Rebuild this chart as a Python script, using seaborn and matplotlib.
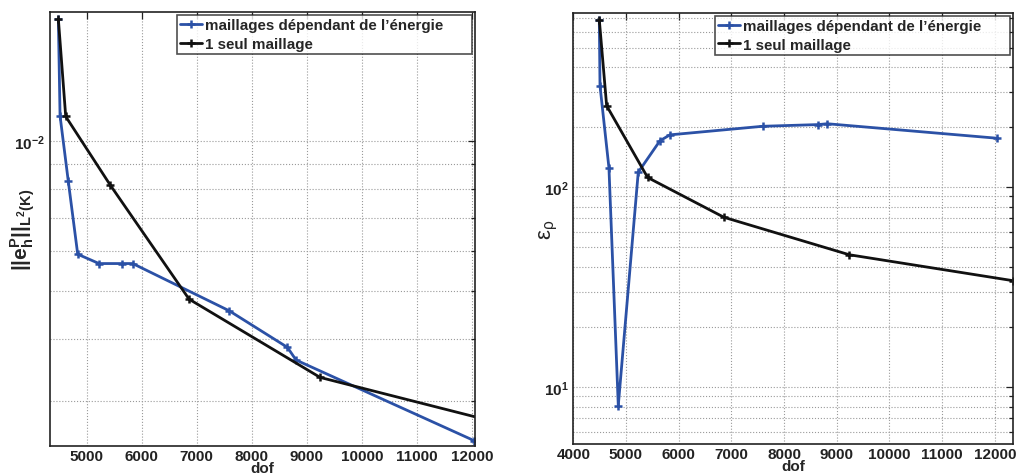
import matplotlib
matplotlib.use("Agg")
import matplotlib.pyplot as plt
import matplotlib.ticker as mticker
import numpy as np
import pandas as pd
import seaborn as sns

# Error norm ||e_h^P||_{L^2(K)} versus number of degrees of freedom
err_dof_multi = [4484, 4515, 4665, 4836, 5224, 5636, 5836, 7587, 8647, 8805, 12045]
err_val_multi = [0.01756, 0.01122, 0.00829, 0.00592, 0.00567, 0.00567, 0.00567,
                 0.00456, 0.00385, 0.00363, 0.00250]
err_dof_single = [4484, 4618, 5424, 6860, 9242, 12350]
err_val_single = [0.01756, 0.01119, 0.00816, 0.00481, 0.00335, 0.00274]

# Efficiency index eps_rho versus number of degrees of freedom
eff_dof_multi = [4494, 4507, 4677, 4854, 5233, 5645, 5835, 7594, 8649, 8820, 12045]
eff_val_multi = [688.0, 322.0, 125.0, 8.1, 119.0, 171.0, 183.0, 202.0, 206.0, 208.0, 176.0]
eff_dof_single = [4494, 4633, 5411, 6860, 9237, 12350]
eff_val_single = [688.0, 256.0, 112.0, 70.8, 46.0, 34.1]

series_labels = ["maillages dépendant de l\u2019énergie", "1 seul maillage"]
series_colors = ["#2b51a6", "#111111"]

sns.set_theme(style="white")
plt.rcParams["font.family"] = ["Liberation Sans", "DejaVu Sans"]
plt.rcParams["mathtext.fontset"] = "custom"
plt.rcParams["mathtext.rm"] = "Liberation Sans"
plt.rcParams["mathtext.it"] = "Liberation Sans:italic"
plt.rcParams["mathtext.bf"] = "Liberation Sans:bold"

fig = plt.figure(figsize=(10.17, 4.77), dpi=100)
ax1 = fig.add_axes([0.0492, 0.0629, 0.418, 0.909])
ax2 = fig.add_axes([0.5637, 0.0671, 0.4326, 0.9036])

# extra room on the right of the legend entries
legend_pad = "\u00a0" * 6


def frame(df_multi, df_single, ax):
    for df, lab, col in zip((df_multi, df_single), series_labels, series_colors):
        sns.lineplot(data=df, x="dof", y="val", ax=ax, sort=False, estimator=None,
                     color=col, lw=2.0, marker="+", markersize=6, mew=1.8,
                     mec=col, label=lab)
    ax.set_yscale("log")
    ax.grid(True, which="major", axis="x", ls=":", lw=0.8, color="#9a9a9a")
    ax.grid(True, which="both", axis="y", ls=":", lw=0.8, color="#9a9a9a")
    ax.tick_params(which="both", direction="in", top=True, right=True,
                   labelsize=11, width=0.9, colors="#222222")
    ax.tick_params(which="major", length=5)
    ax.tick_params(which="minor", length=3)
    ax.tick_params(axis="x", pad=2)
    for s in ax.spines.values():
        s.set_color("#222222")
        s.set_linewidth(1.2)
    ax.set_xlabel("dof", fontsize=11, fontweight="bold", labelpad=-1)
    handles, labels = ax.get_legend_handles_labels()
    labels = [labels[0] + legend_pad, labels[1]]
    leg = ax.legend(handles, labels, loc="upper right",
                    prop={"weight": "bold", "size": 10.9},
                    frameon=True, fancybox=False, borderpad=0.2, labelspacing=0.3,
                    handlelength=1.5, handletextpad=0.2, borderaxespad=0.2)
    leg.get_frame().set_edgecolor("#222222")
    leg.get_frame().set_linewidth(1.2)


df_a = pd.DataFrame({"dof": err_dof_multi, "val": err_val_multi})
df_b = pd.DataFrame({"dof": err_dof_single, "val": err_val_single})
frame(df_a, df_b, ax1)
ax1.set_xlim(4333, 12060)
ax1.set_ylim(2.44e-3, 1.81e-2)
ax1.xaxis.set_major_locator(mticker.MultipleLocator(1000))
ax1.yaxis.set_minor_formatter(mticker.NullFormatter())
ax1.set_ylabel(r"$\mathbf{||e^P_h||_{L^2(K)}}$", fontsize=15)
ax1.yaxis.set_label_coords(-0.03, 0.5)

df_c = pd.DataFrame({"dof": eff_dof_multi, "val": eff_val_multi})
df_d = pd.DataFrame({"dof": eff_dof_single, "val": eff_val_single})
frame(df_c, df_d, ax2)
ax2.set_xlim(4000, 12350)
ax2.set_ylim(5.2, 745)
ax2.xaxis.set_major_locator(mticker.MultipleLocator(1000))
ax2.yaxis.set_minor_formatter(mticker.NullFormatter())
ax2.set_ylabel(r"$\mathrm{\varepsilon}_\mathrm{\rho}$", fontsize=16)
ax2.yaxis.set_label_coords(-0.03, 0.5)

for ax in (ax1, ax2):
    for lbl in ax.get_xticklabels() + ax.get_yticklabels():
        lbl.set_fontweight("bold")

fig.savefig("out.png", dpi=100)
